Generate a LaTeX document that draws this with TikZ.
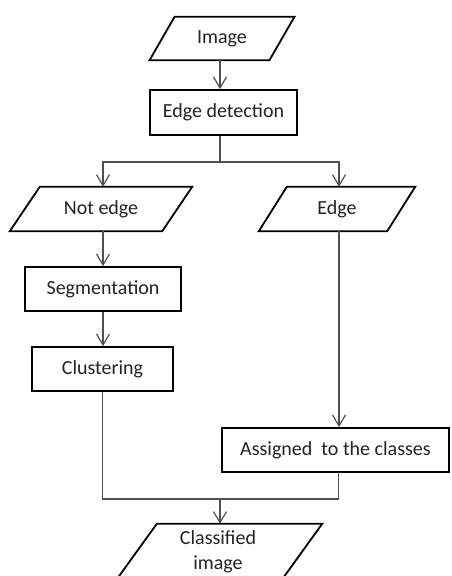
\documentclass[tikz,border=0pt]{standalone}
\usepackage{fontspec}
\setmainfont{Carlito}
\usetikzlibrary{calc,arrows.meta}
\definecolor{conn}{RGB}{80,80,80}
\definecolor{txt}{RGB}{35,35,35}
\newcommand\parabox[2]{\draw[boxline] ($(#1.north west)+(#2,0)$) -- ($(#1.north east)+(#2,0)$) -- ($(#1.south east)-(#2,0)$) -- ($(#1.south west)-(#2,0)$) -- cycle;}
\tikzset{
  x=1pt,y=-1pt,
  boxline/.style={draw=black,line width=1.8pt,line join=miter},
  rectbox/.style={boxline,fill=white,inner sep=0pt,text=txt,font=\fontsize{20}{26}\selectfont,minimum height=44pt},
  parabox/.style={inner sep=0pt,text=txt,font=\fontsize{20}{26}\selectfont,minimum height=44pt,align=center},
  conline/.style={draw=conn,line width=1.2pt},
  arr/.style={conline,-{Straight Barb[length=11pt,width=13pt,line width=1.2pt]}}
}
\begin{document}
\begin{tikzpicture}
\useasboundingbox (0,0) rectangle (451,576);
\clip (0,0) rectangle (451,576);
\fill[white] (0,0) rectangle (451,576);
% nodes
\node[parabox,minimum width=119.5pt,minimum height=43pt] (img) at (222,38.5) {Image};
\node[rectbox,minimum width=147pt,minimum height=45pt] (ed) at (223.5,112.5) {Edge detection};
\node[parabox,minimum width=152pt] (ne) at (101,209) {Not edge};
\node[parabox,minimum width=128pt] (e) at (337,209) {Edge};
\node[rectbox,minimum width=156pt] (seg) at (103,289) {Segmentation};
\node[rectbox,minimum width=141pt] (cl) at (102.5,369) {Clustering};
\node[rectbox,minimum width=227pt] (asg) at (335.5,450) {Assigned\ \ to the classes};
\node[parabox,minimum width=165pt,minimum height=62pt] (cls) at (217,555) {};
\node[parabox,font=\fontsize{20}{25}\selectfont] (clst) at (218,552) {Classified\\image};
% parallelogram outlines
\parabox{img}{12.5}
\parabox{ne}{15}
\parabox{e}{14}
\parabox{cls}{22.5}
% connector helpers
\coordinate (sp) at (220,162);
\coordinate (mg) at (220,499);
% connectors
\draw[arr] (sp |- img.south) -- (sp |- ed.north);
\draw[conline] (sp |- ed.south) -- (sp);
\draw[arr] (sp) -| ([xshift=2pt]ne.north);
\draw[arr] (sp) -| ([xshift=2pt]e.north);
\draw[arr] ([xshift=2pt]ne.south) -- ([xshift=2pt]ne.south |- seg.north);
\draw[arr] (seg.south) -- (seg.south |- cl.north);
\draw[arr] ([xshift=2pt]e.south) -- ([xshift=2pt]e.south |- asg.north);
\draw[conline] (cl.south) |- (mg) -| ([xshift=3pt]asg.south);
\draw[arr] (mg) -- (mg |- cls.north);
\end{tikzpicture}
\end{document}
